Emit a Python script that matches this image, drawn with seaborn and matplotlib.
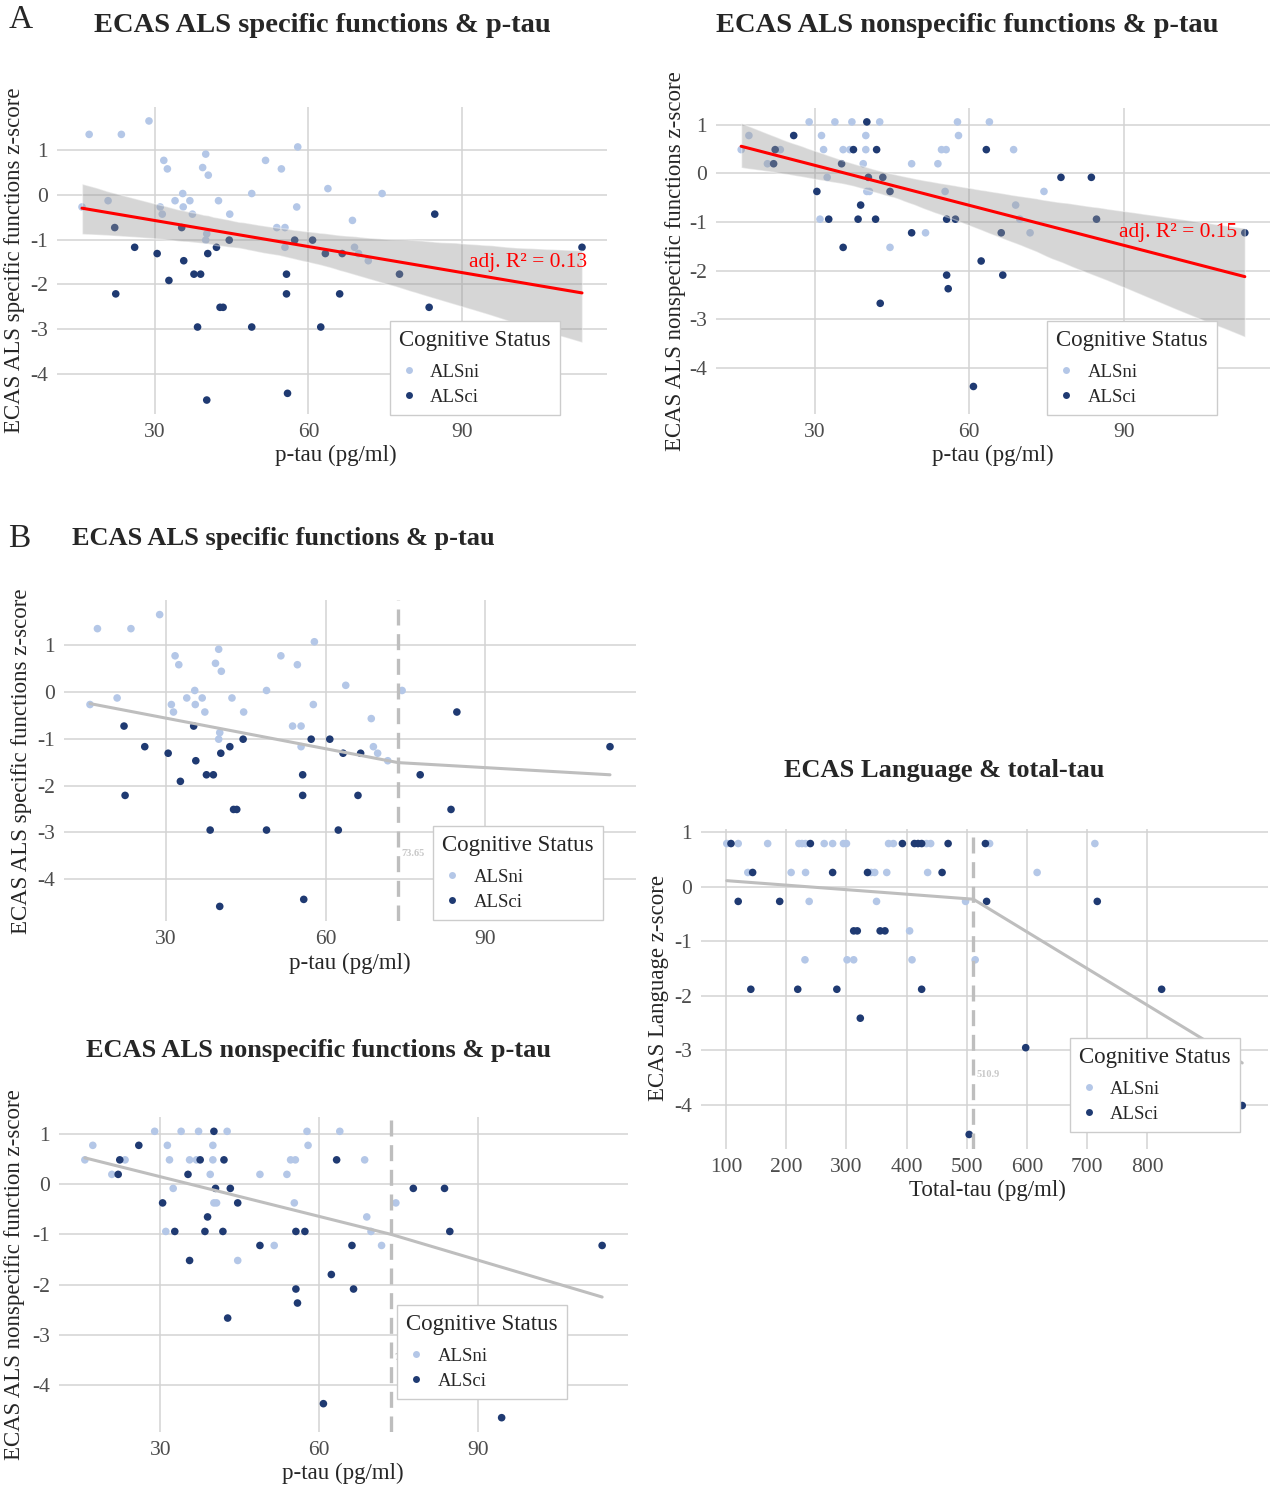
import numpy as np
import pandas as pd
import matplotlib.pyplot as plt
import seaborn as sns
from matplotlib.lines import Line2D

# ECAS z-scores against CSF tau.
status_order = ["ALSni", "ALSci"]
palette = {"ALSni": "#B4C7E7", "ALSci": "#1F3A72"}

# ECAS ALS specific functions vs p-tau
# (last ALSci point sits behind the legend box, its value is estimated)
spec_ni_ptau = [17.1, 23.4, 28.8, 31.7, 32.4, 39.9, 39.3, 40.4, 51.6, 54.7, 57.9, 63.8,
                48.9, 35.4, 33.9, 36.8, 42.4, 20.8, 15.7, 31.0, 35.5, 31.4, 37.3, 44.6,
                57.7, 68.6, 53.8, 55.4, 40.1, 39.9, 55.4, 69.0, 69.8, 71.7, 74.4]
spec_ni_z = [1.35, 1.35, 1.65, 0.77, 0.58, 0.91, 0.61, 0.44, 0.77, 0.58, 1.07, 0.14,
             0.03, 0.03, -0.13, -0.13, -0.13, -0.13, -0.27, -0.27, -0.27, -0.43, -0.43, -0.43,
             -0.27, -0.57, -0.73, -0.73, -0.87, -1.01, -1.17, -1.17, -1.31, -1.47, 0.03]
spec_ci_ptau = [22.1, 26.0, 30.4, 35.2, 35.6, 32.7, 37.6, 38.9, 40.3, 42.0, 44.5, 22.3,
                38.3, 40.1, 42.7, 43.3, 48.9, 55.7, 55.7, 55.9, 57.3, 60.8, 63.3, 66.6,
                62.4, 66.1, 77.8, 83.6, 84.7, 113.5, 94.5]
spec_ci_z = [-0.73, -1.17, -1.31, -0.73, -1.47, -1.91, -1.77, -1.77, -1.31, -1.17, -1.01, -2.21,
             -2.95, -4.58, -2.51, -2.51, -2.95, -1.77, -2.21, -4.43, -1.01, -1.01, -1.31, -1.31,
             -2.95, -2.21, -1.77, -2.51, -0.43, -1.17, -3.10]

# ECAS ALS nonspecific functions vs p-tau
nons_ni_ptau = [28.9, 33.9, 37.2, 42.6, 57.7, 63.9, 17.2, 31.3, 39.9, 57.9, 15.7, 23.3,
                31.7, 35.5, 36.8, 39.9, 54.6, 55.5, 68.6, 20.8, 39.4, 48.8, 53.9, 32.4,
                40.1, 40.6, 55.3, 74.5, 69.0, 31.0, 69.8, 51.5, 71.8, 44.6]
nons_ni_z = [1.06, 1.06, 1.06, 1.06, 1.06, 1.06, 0.78, 0.78, 0.78, 0.78, 0.49, 0.49,
             0.49, 0.49, 0.49, 0.49, 0.49, 0.49, 0.49, 0.20, 0.20, 0.20, 0.20, -0.08,
             -0.37, -0.37, -0.37, -0.37, -0.65, -0.94, -0.94, -1.22, -1.22, -1.52]
nons_ci_ptau = [40.1, 25.9, 22.3, 37.5, 42.0, 63.3, 22.0, 35.2, 40.4, 43.2, 77.8, 83.7,
                30.4, 44.6, 38.9, 32.7, 38.4, 41.8, 55.6, 57.3, 84.7, 48.8, 66.2, 113.5,
                35.5, 62.3, 55.6, 66.5, 55.9, 42.7, 60.8, 94.5]
nons_ci_z = [1.06, 0.78, 0.49, 0.49, 0.49, 0.49, 0.20, 0.20, -0.08, -0.08, -0.08, -0.08,
             -0.37, -0.37, -0.65, -0.94, -0.94, -0.94, -0.94, -0.94, -0.94, -1.22, -1.22, -1.22,
             -1.52, -1.80, -2.09, -2.09, -2.37, -2.67, -4.38, -4.66]

# ECAS Language vs total-tau
lang_ni_ttau = [101, 120, 169, 221, 226, 232, 263, 277, 295, 300, 370, 378, 433, 440, 538, 713,
                136, 208, 232, 341, 347, 367, 435, 617,
                238, 350, 498,
                405,
                231, 301, 312, 409, 514]
lang_ni_z = [0.79] * 16 + [0.26] * 8 + [-0.27] * 3 + [-0.81] + [-1.34] * 5
lang_ci_ttau = [108, 240, 393, 413, 419, 425, 469, 531,
                144, 277, 335, 459,
                120, 189, 533, 717,
                312, 318, 356, 364,
                141, 219, 284, 425, 824,
                323, 598, 958, 504]
lang_ci_z = ([0.79] * 8 + [0.26] * 4 + [-0.27] * 4 + [-0.81] * 4 + [-1.88] * 5
             + [-2.41, -2.95, -4.01, -4.54])

# segmented regression: breakpoints and fitted values (start, breakpoint, end)
ptau_break = 73.65
ttau_break = 510.9
spec_seg_x = [15.7, ptau_break, 113.5]
spec_seg_z = [-0.25, -1.51, -1.77]
nons_seg_x = [15.7, ptau_break, 113.5]
nons_seg_z = [0.53, -1.00, -2.25]
lang_seg_x = [101, ttau_break, 958]
lang_seg_z = [0.11, -0.23, -3.23]

r2_labels = ["adj. R\u00b2 = 0.13", "adj. R\u00b2 = 0.15"]


def make_df(ni_x, ni_y, ci_x, ci_y):
    return pd.DataFrame({"x": ni_x + ci_x, "z": ni_y + ci_y,
                         "status": ["ALSni"] * len(ni_x) + ["ALSci"] * len(ci_x)})


spec = make_df(spec_ni_ptau, spec_ni_z, spec_ci_ptau, spec_ci_z)
nons = make_df(nons_ni_ptau, nons_ni_z, nons_ci_ptau, nons_ci_z)
lang = make_df(lang_ni_ttau, lang_ni_z, lang_ci_ttau, lang_ci_z)

sns.set_style("white")
plt.rcParams["font.family"] = ["Liberation Serif", "DejaVu Serif"]
plt.rcParams["axes.unicode_minus"] = False

W, H = 1274, 1487
fig = plt.figure(figsize=(W / 100, H / 100), dpi=100)


def panel(l, t, r, b):
    return fig.add_axes([l / W, 1 - b / H, (r - l) / W, (b - t) / H])


def scatter(ax, df, xticks):
    sns.scatterplot(data=df, x="x", y="z", hue="status", hue_order=status_order,
                    palette=palette, s=30, linewidth=0, legend=False, ax=ax)
    ax.margins(0.05)
    ax.set_xticks(xticks)
    ax.set_yticks([1, 0, -1, -2, -3, -4])
    ax.grid(True, color="#D3D3D3", lw=1.1)
    ax.set_axisbelow(True)
    for s in ax.spines.values():
        s.set_visible(False)
    ax.tick_params(length=2.5, width=0.8, color="#333333", labelsize=15.5,
                   labelcolor="#4D4D4D", pad=4)


def segmented(ax, seg_x, seg_z, psi):
    sns.lineplot(x=seg_x, y=seg_z, color="#BEBEBE", lw=2.2, ax=ax)
    ax.axvline(psi, color="#BEBEBE", lw=2.4, ls=(0, (4.8, 2.6)))
    ax.annotate(f"{psi:g}", (psi, -3.45), xytext=(2.5, 0), textcoords="offset points",
                fontsize=7.5, color="#C8C8C8", fontweight="bold", va="center")


def linear(ax, df, label, lx, ly):
    sns.regplot(data=df, x="x", y="z", scatter=False, ci=95, seed=0, color="red",
                line_kws={"lw": 2.2}, ax=ax)
    band = ax.collections[-1]
    band.set_facecolor("#999999")
    band.set_alpha(0.4)
    ax.text(lx, ly, label, color="red", fontsize=15.5, ha="right", va="center")


def legend(ax, l, t):
    handles = [Line2D([], [], ls="", marker="o", ms=5, mfc=palette[k], mec="none")
               for k in status_order]
    leg = ax.legend(handles, status_order, title="Cognitive Status", loc="upper left",
                    bbox_to_anchor=(l / W, 1 - t / H), bbox_transform=fig.transFigure,
                    frameon=True, fancybox=False, framealpha=1.0, facecolor="white",
                    fontsize=13.5, title_fontsize=16.5,
                    alignment="left", borderpad=0.5, labelspacing=0.42,
                    handletextpad=0.65, handlelength=1.0, borderaxespad=0)
    leg._legend_box.sep = 9
    leg.get_frame().set_edgecolor("#CCCCCC")
    leg.get_frame().set_linewidth(1.0)
    leg.set_zorder(10)


def labels(ax, title, tpos, tsize, xlab, xpos, ylab, ypos):
    ax.set_xlabel("")
    ax.set_ylabel("")
    fig.text(tpos[0] / W, 1 - tpos[1] / H, title, ha="center", va="center",
             fontsize=tsize, fontweight="bold")
    fig.text(xpos[0] / W, 1 - xpos[1] / H, xlab, ha="center", va="center", fontsize=16.5)
    fig.text(ypos[0] / W, 1 - ypos[1] / H, ylab, ha="center", va="center",
             fontsize=16.5, rotation=90)


ptau_ticks = [30, 60, 90]

# A: linear fits
ax = panel(57, 107, 607, 414)
scatter(ax, spec, ptau_ticks)
linear(ax, spec, r2_labels[0], 114.5, -1.52)
legend(ax, 390, 321)
labels(ax, "ECAS ALS specific functions & p-tau", (322, 26), 20.5, "p-tau (pg/ml)", (336, 455),
       "ECAS ALS specific functions z-score", (15, 260))

ax = panel(716, 108, 1270, 414)
scatter(ax, nons, ptau_ticks)
linear(ax, nons, r2_labels[1], 112.0, -1.22)
legend(ax, 1047, 321)
labels(ax, "ECAS ALS nonspecific functions & p-tau", (967, 26), 20.5, "p-tau (pg/ml)", (993, 455),
       "ECAS ALS nonspecific functions z-score", (675, 261))

# B: segmented fits
ax = panel(64, 600, 636, 921)
scatter(ax, spec, ptau_ticks)
segmented(ax, spec_seg_x, spec_seg_z, ptau_break)
legend(ax, 433, 826)
labels(ax, "ECAS ALS specific functions & p-tau", (283, 539), 19, "p-tau (pg/ml)", (350, 963),
       "ECAS ALS specific functions z-score", (22, 761))

ax = panel(59, 1117, 628, 1432)
scatter(ax, nons, ptau_ticks)
segmented(ax, nons_seg_x, nons_seg_z, ptau_break)
legend(ax, 397, 1305)
labels(ax, "ECAS ALS nonspecific functions & p-tau", (319, 1051), 19, "p-tau (pg/ml)", (343, 1473),
       "ECAS ALS nonspecific function z-score", (15, 1275))

ax = panel(701, 829, 1268, 1149)
scatter(ax, lang, list(range(100, 900, 100)))
segmented(ax, lang_seg_x, lang_seg_z, ttau_break)
legend(ax, 1070, 1038)
labels(ax, "ECAS Language & total-tau", (944, 771), 19, "Total-tau (pg/ml)", (987, 1190),
       "ECAS Language z-score", (658, 988))

fig.text(21 / W, 1 - 20 / H, "A", ha="center", va="center", fontsize=24)
fig.text(19 / W, 1 - 539 / H, "B", ha="center", va="center", fontsize=24)

fig.savefig("out.png", dpi=100)
